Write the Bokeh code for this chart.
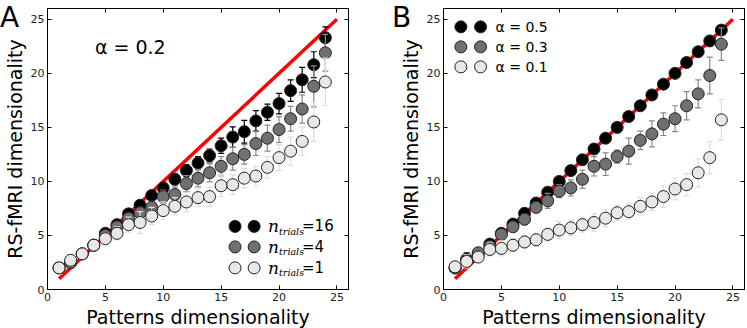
import numpy as np
from bokeh.plotting import figure
from bokeh.models import Range1d, FixedTicker, LinearAxis, Label, Div
from bokeh.layouts import row
from bokeh.embed import file_html
from bokeh.resources import INLINE

# ---------------- data ----------------
dims = list(range(1, 25))
ideal_x = [1, 25]
ideal_y = [1, 25]
tick_vals = [0, 5, 10, 15, 20, 25]

# Panel A (alpha = 0.2), three numbers of trials
a_n16 = [2.0, 2.5, 3.3, 4.1, 5.2, 6.0, 7.0, 7.8, 8.7, 9.4, 10.2, 11.0, 11.7, 12.4,
         13.3, 14.1, 14.6, 15.6, 16.4, 17.2, 18.4, 19.4, 20.8, 23.3]
a_n16_err = [0.3, 0.3, 0.3, 0.25, 0.25, 0.3, 0.3, 0.35, 0.35, 0.45, 0.5, 0.55, 0.6, 0.6,
             0.7, 0.95, 1.05, 0.95, 0.75, 0.95, 1.0, 1.15, 1.2, 1.0]
a_n4 = [2.0, 2.5, 3.3, 4.1, 5.0, 5.8, 6.6, 7.1, 7.6, 8.6, 8.8, 9.8, 10.3, 10.8,
        11.4, 12.1, 12.5, 13.5, 14.0, 14.8, 15.8, 16.7, 18.8, 21.9]
a_n4_err = [0.5, 0.4, 0.4, 0.3, 0.35, 0.4, 0.45, 0.5, 0.55, 0.6, 0.7, 0.75, 0.8, 0.85,
            0.9, 1.05, 0.9, 1.1, 1.2, 1.2, 1.15, 1.3, 1.9, 1.7]
a_n1 = [2.0, 2.7, 3.3, 4.1, 4.7, 5.2, 6.0, 6.2, 6.8, 7.3, 7.7, 8.1, 8.5, 8.6,
        9.6, 9.7, 10.3, 10.5, 11.3, 12.2, 12.8, 13.7, 15.5, 19.2]
a_n1_err = [0.6, 0.5, 0.5, 0.4, 0.5, 0.6, 0.7, 1.0, 0.8, 0.8, 0.8, 0.9, 0.8, 0.9,
            1.0, 0.9, 0.9, 0.9, 1.0, 1.2, 1.3, 1.3, 1.8, 2.2]

# Panel B, three alphas
b_a05 = [2.0, 2.8, 3.3, 4.2, 5.2, 6.05, 7.05, 8.0, 9.0, 10.0, 11.0, 12.0, 13.0, 14.0,
         15.0, 16.0, 17.0, 18.0, 19.0, 20.0, 21.0, 22.0, 23.0, 24.0]
b_a05_err = [0.4, 0.6, 0.4, 0.2, 0.2, 0.15, 0.15, 0.1, 0.1, 0.1, 0.1, 0.1, 0.1, 0.1,
             0.1, 0.1, 0.1, 0.1, 0.1, 0.1, 0.1, 0.1, 0.1, 0.1]
b_a03 = [2.0, 2.7, 3.4, 4.0, 5.1, 5.8, 6.5, 7.6, 8.2, 9.1, 9.4, 10.2, 11.4, 11.6,
         12.3, 12.8, 13.8, 14.4, 15.3, 15.8, 17.0, 18.1, 19.8, 22.7]
b_a03_err = [0.5, 0.5, 0.4, 0.3, 0.35, 0.35, 0.5, 0.5, 0.7, 0.6, 0.75, 0.85, 0.9, 1.05,
             0.6, 1.2, 0.85, 1.2, 1.05, 1.2, 1.3, 1.3, 1.7, 1.5]
b_a01 = [2.1, 2.6, 3.0, 3.7, 3.8, 4.1, 4.4, 4.6, 5.1, 5.5, 5.7, 6.0, 6.2, 6.6,
         7.1, 7.2, 7.7, 8.1, 8.6, 9.3, 9.7, 10.8, 12.2, 15.7]
b_a01_err = [0.5, 0.6, 0.5, 0.6, 0.7, 0.6, 0.6, 0.6, 0.6, 0.8, 0.7, 0.7, 0.8, 0.8,
             0.7, 0.7, 0.8, 0.8, 1.0, 1.0, 1.05, 1.3, 1.5, 1.9]

legend_a_labels = ["16", "4", "1"]
legend_b_labels = ["α = 0.5", "α = 0.3", "α = 0.1"]
panel_letters = ["A", "B"]

FILL = ["#000000", "#707070", "#e8e8e8"]
ERRC = ["#000000", "#8a8a8a", "#dedede"]
FONT = "DejaVu Sans"
TOP = 8
FH = 281


def make_panel(left, right):
    p = figure(frame_width=301, frame_height=FH, output_backend="svg",
               toolbar_location=None, x_range=Range1d(0, 26), y_range=Range1d(0, 26),
               min_border_left=left, min_border_right=right, min_border_top=TOP,
               min_border_bottom=38)
    p.grid.visible = False
    p.outline_line_color = "black"
    p.outline_line_width = 1
    p.background_fill_color = "white"
    for ax in (p.xaxis[0], p.yaxis[0]):
        ax.ticker = FixedTicker(ticks=tick_vals)
        ax.major_tick_in = 4
        ax.major_tick_out = 0
        ax.minor_tick_line_color = None
        ax.axis_line_color = "black"
        ax.major_tick_line_color = "black"
        ax.major_label_text_font = FONT
        ax.major_label_text_font_size = "11px"
        ax.major_label_text_color = "#222222"
        ax.axis_label_text_font = FONT
        ax.axis_label_text_font_size = "19px"
        ax.axis_label_text_font_style = "normal"
        ax.axis_label_text_color = "black"
    p.xaxis.axis_label = "Patterns dimensionality"
    p.yaxis.axis_label = "RS-fMRI dimensionality"
    p.xaxis.major_label_standoff = 3
    p.xaxis.axis_label_standoff = 2
    p.yaxis.major_label_standoff = 3
    p.yaxis.axis_label_standoff = 2
    for loc in ("above", "right"):
        ax = LinearAxis(ticker=FixedTicker(ticks=tick_vals), major_tick_in=4,
                        major_tick_out=0, minor_tick_line_color=None,
                        major_label_text_font_size="1px", major_label_text_color=None,
                        major_label_text_alpha=0, major_label_standoff=0,
                        axis_line_color="black", major_tick_line_color="black")
        p.add_layout(ax, loc)
    p.line(ideal_x, ideal_y, line_color="#ff0000", line_width=3.5)
    return p


def draw_series(p, xs, ys, errs, fill, errc):
    x = np.array(xs, dtype=float)
    y = np.array(ys, dtype=float)
    e = np.array(errs, dtype=float)
    p.segment(x, y - e, x, y + e, line_color=errc, line_width=1.2)
    p.scatter(x, y + e, marker="dash", size=6, line_color=errc, line_width=1.2)
    p.scatter(x, y - e, marker="dash", size=6, line_color=errc, line_width=1.2)
    p.scatter(x, y, marker="circle", size=12, fill_color=fill, line_color="#222222",
              line_width=1)


def letter_div(text, left):
    return Div(text=text, width=26, height=28,
               styles={"position": "absolute", "left": f"{left}px", "top": "0px",
                       "font-size": "28px", "font-family": "DejaVu Sans",
                       "line-height": "26px", "color": "black", "z-index": "5"})


# ---------------- Panel A ----------------
pa = make_panel(41, 22)
for ys, es, f, c in zip([a_n16, a_n4, a_n1], [a_n16_err, a_n4_err, a_n1_err], FILL, ERRC):
    draw_series(pa, dims, ys, es, f, c)
pa.add_layout(Label(x=4.1, y=22.4, text="α = 0.2", text_font=FONT, text_font_size="19px",
                    text_baseline="middle", text_color="black"))
leg_a_y = [5.84, 3.94, 2.0]
for yy, lab, f, c in zip(leg_a_y, legend_a_labels, FILL, ERRC):
    draw_series(pa, [16.2, 17.85], [yy, yy], [0.45, 0.45], f, c)
    pa.add_layout(Label(x=19.05, y=yy, text="n", text_font="DejaVu Serif",
                        text_font_style="italic", text_font_size="17px",
                        text_baseline="middle", text_color="black"))
    pa.add_layout(Label(x=19.05, y=yy, x_offset=11, y_offset=-5, text="trials",
                        text_font="DejaVu Serif", text_font_style="italic",
                        text_font_size="9.5px", text_baseline="middle", text_color="black"))
    pa.add_layout(Label(x=19.05, y=yy, x_offset=34, text="=" + lab, text_font=FONT,
                        text_font_size="15px", text_baseline="middle", text_color="black"))

# ---------------- Panel B ----------------
pb = make_panel(73, 1)
for ys, es, f, c in zip([b_a05, b_a03, b_a01], [b_a05_err, b_a03_err, b_a01_err], FILL, ERRC):
    draw_series(pb, dims, ys, es, f, c)
leg_b_y = [24.3, 22.45, 20.6]
for yy, lab, f, c in zip(leg_b_y, legend_b_labels, FILL, ERRC):
    draw_series(pb, [1.5, 3.2], [yy, yy], [0.4, 0.4], f, c)
    pb.add_layout(Label(x=4.5, y=yy, text=lab, text_font=FONT, text_font_size="14px",
                        text_baseline="middle", text_color="black"))

layout = row(pa, pb, letter_div(panel_letters[0], -5), letter_div(panel_letters[1], 387),
             spacing=0)
open("out.html", "w").write(file_html(layout, INLINE))
